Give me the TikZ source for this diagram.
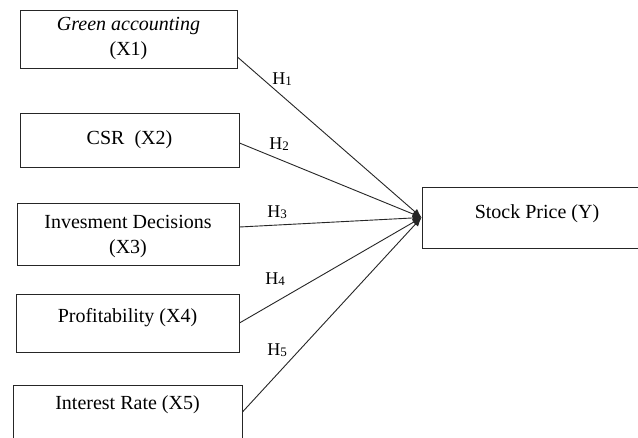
\documentclass[tikz,border=0pt]{standalone}
\usepackage{fontspec}
\setmainfont{Liberation Serif}
\usetikzlibrary{arrows.meta}
\newcommand{\hsub}[1]{\raisebox{-1.5pt}{\fontsize{13}{13}\selectfont #1}}
\begin{document}
\begin{tikzpicture}[x=1pt,y=-1pt,
  box/.style={draw=black!85,line width=0.9pt,rectangle,inner sep=0pt,align=center,font=\fontsize{20}{25}\selectfont},
  txt/.style={inner sep=0pt,align=center,font=\fontsize{20}{25}\selectfont},
  hyp/.style={inner sep=0pt,font=\fontsize{18}{18}\selectfont},
  link/.style={draw=black!85,line width=0.9pt,-{Latex[length=9pt,width=7pt]}}]
\clip (0,0) rectangle (638,437);
\fill[white] (0,0) rectangle (638,437);
% boxes
\node[box,minimum width=217pt,minimum height=58pt] (x1) at (128.5,39) {\textit{Green accounting}\\(X1)};
\node[box,minimum width=219pt,minimum height=54pt] (x2) at (129.5,140) {CSR\ \ (X2)};
\node[box,minimum width=222pt,minimum height=62pt] (x3) at (128,234) {};
\node[txt] (t3) at (128,237) {Invesment Decisions\\(X3)};
\node[box,minimum width=223pt,minimum height=58pt] (x4) at (127.5,323) {};
\node[txt] (t4) at (127.5,318) {Profitability (X4)};
\node[box,minimum width=229pt,minimum height=56pt] (x5) at (127.5,413) {};
\node[txt] (t5) at (127.5,405) {Interest Rate (X5)};
\node[box,minimum width=226pt,minimum height=61pt] (y) at (535,217.5) {};
\node[txt] (ty) at (537,214) {Stock Price (Y)};
% connectors
\draw[link] ([yshift=-18pt]x1.east) -- (y.west);
\draw[link] ([yshift=-3pt]x2.east) -- (y.west);
\draw[link] ([yshift=7pt]x3.east) -- (y.west);
\draw[link] (x4.east) -- (y.west);
\draw[link] ([yshift=1pt]x5.east) -- (y.west);
% labels
\node[hyp] (h1) at (282,79) {H\hsub{1}};
\node[hyp] (h2) at (279,144) {H\hsub{2}};
\node[hyp] (h3) at (277,212) {H\hsub{3}};
\node[hyp] (h4) at (275,279) {H\hsub{4}};
\node[hyp] (h5) at (277,350) {H\hsub{5}};
\end{tikzpicture}
\end{document}
